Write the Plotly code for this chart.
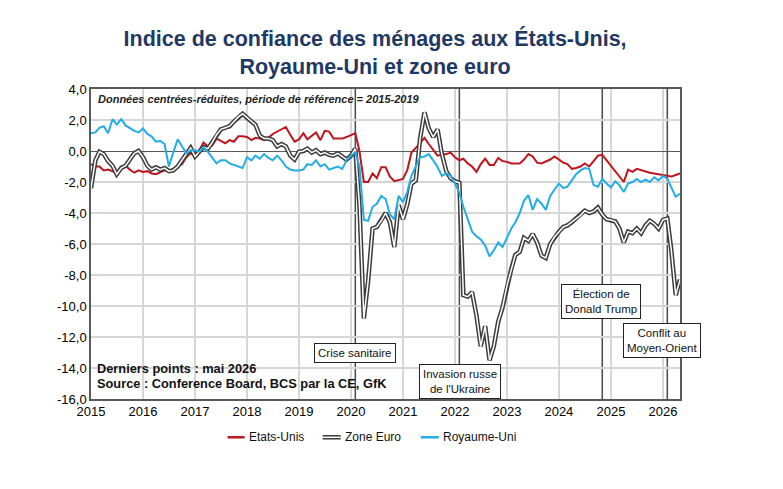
import plotly.graph_objects as go
import pandas as pd

# ---------------- data ----------------
months = pd.date_range("2015-01-01", "2026-05-01", freq="MS")

etats_unis = [
    -0.85, -1.0, -1.0, -1.25, -1.2, -1.3, -1.4, -1.0, -0.95, -1.2, -1.4, -1.25,
    -1.35, -1.3, -1.45, -1.5, -1.35, -1.25, -1.3, -1.15, -0.95, -0.85, -0.4, -0.15,
    -0.3, 0.05, 0.55, 0.3, 0.35, 0.8, 0.65, 0.5, 0.7, 0.6, 0.95, 0.95,
    0.9, 0.7, 0.85, 0.8, 0.7, 0.85, 1.1, 1.25, 1.4, 1.55, 1.05, 0.6,
    0.75, 1.15, 0.75, 1.0, 1.2, 0.7, 1.3, 1.25, 0.8, 0.8, 0.8, 0.9,
    1.05, 1.15, 0.0, -2.0, -2.0, -1.45, -1.75, -1.05, -1.05, -1.65, -1.95, -1.9,
    -1.8, -1.2, -0.1, 0.2, 0.5, 0.85, 0.45, 0.05, -0.3, -0.25, -0.2, -0.1,
    -0.4, -0.6, -0.5, -0.8, -1.0, -1.35, -0.85, -0.5, -0.9, -0.9, -0.45, -0.65,
    -0.7, -0.8, -0.8, -0.8, -0.55, -0.2, -0.35, -0.75, -0.8, -0.7, -0.55, -0.35,
    -0.55, -0.75, -0.85, -1.15, -1.1, -1.0, -0.8, -1.0, -0.65, -0.3, -0.25, -0.6,
    -0.95, -1.3, -1.6, -2.0, -1.2, -1.35, -1.15, -1.25, -1.35, -1.4, -1.45, -1.5,
    -1.55, -1.65, -1.65, -1.55, -1.45,
]

zone_euro = [
    -2.4, -0.6, -0.05, -0.2, -0.65, -0.95, -1.5, -1.1, -0.95, -0.55, -0.15, 0.0,
    -0.4, -0.95, -1.2, -1.05, -1.2, -1.1, -1.3, -1.25, -1.0, -0.6, -0.15, 0.2,
    -0.35, 0.0, 0.25, 0.15, 0.55, 1.05, 1.4, 1.5, 1.6, 1.9, 2.2, 2.4,
    2.15, 1.95, 1.7, 1.0, 0.8, 0.8, 0.7, 0.3, 0.45, 0.3, -0.3, -0.55,
    -0.05, 0.0, 0.15, -0.1, 0.05, -0.2, -0.1, -0.25, -0.3, -0.15, -0.35, -0.55,
    -0.3, 0.15, -3.5, -10.8, -8.4, -5.0, -4.9, -4.5, -4.0, -4.6, -6.2, -3.5,
    -4.4, -3.4, -2.1, -1.9, 0.8, 2.5, 1.45, 0.9, 1.4, -0.2, -1.3, -1.75,
    -1.95, -2.05, -9.3, -9.4, -9.1, -10.6, -12.6, -11.3, -13.5, -12.6, -11.0, -10.1,
    -8.7, -7.6, -6.7, -6.5, -5.6, -5.8, -5.35, -5.9, -6.75, -6.9, -6.0, -5.55,
    -5.2, -4.9, -4.8, -4.6, -4.35, -4.15, -3.85, -4.0, -3.9, -3.65, -4.1, -4.4,
    -4.45, -4.55, -5.0, -5.9, -5.2, -5.3, -5.0, -5.3, -4.8, -4.5, -4.7, -5.0,
    -4.45, -4.35, -6.4, -9.3, -8.3,
]

royaume_uni = [
    1.15, 1.2, 1.5, 1.6, 1.15, 2.05, 1.7, 2.05, 1.65, 1.45, 1.3, 1.2,
    1.45, 1.1, 0.95, 0.6, 0.65, 0.45, -1.0, -0.1, 0.75, 0.3, -0.15, 0.05,
    0.05, -0.05, 0.25, -0.05, -0.4, -0.8, -0.6, -0.6, -0.8, -0.9, -1.0, -1.1,
    -0.4, -0.6, -0.3, -0.5, -0.2, -0.45, -0.6, -0.3, -0.6, -1.0, -1.2, -1.25,
    -1.25, -1.2, -0.85, -0.9, -0.6, -1.0, -0.85, -1.2, -1.1, -1.0, -1.15, -0.6,
    -0.3, -0.1, -1.0, -4.45, -4.5, -3.6, -3.4, -2.9, -3.1, -4.1, -4.4, -2.9,
    -3.3, -2.6, -1.6, -1.0, -0.4, -0.35, -0.2, -0.6, -1.05, -1.6, -1.45, -1.6,
    -2.1, -2.7, -3.6, -4.4, -5.2, -5.5, -5.7, -6.1, -6.8, -6.4, -5.9, -6.2,
    -5.6, -5.0, -4.6, -4.0, -3.2, -2.85, -3.8, -3.1, -3.4, -3.8, -2.9, -2.5,
    -2.1, -2.4, -2.3, -1.9, -1.5, -1.25, -1.1, -1.15, -2.2, -2.3, -1.8, -2.1,
    -2.35, -1.95, -2.2, -2.65, -2.1, -2.0, -1.8, -2.0, -1.85, -2.0, -1.7, -1.9,
    -1.6, -1.8, -2.3, -2.95, -2.75,
]

year_ticks = [f"{y}-01-01" for y in range(2015, 2027)]
year_labels = [str(y) for y in range(2015, 2027)]
y_ticks = [4, 2, 0, -2, -4, -6, -8, -10, -12, -14, -16]
y_labels = ["4,0", "2,0", "0,0", "-2,0", "-4,0", "-6,0", "-8,0", "-10,0",
            "-12,0", "-14,0", "-16,0"]

event_dates = ["2020-02-01", "2022-02-01", "2024-11-01", "2026-02-01"]
event_labels = ["Crise sanitaire", "Invasion russe<br>de l'Ukraine",
                "Élection de<br>Donald Trump", "Conflit au<br>Moyen-Orient"]
event_label_x = ["2020-02-01", "2022-02-05", "2024-10-24", "2025-12-28"]
event_label_y = [-13.05, -14.86, -9.74, -12.21]

RED = "#c0151c"
CYAN = "#22ade6"
DARK = "#3c3c3c"
FONT = "Liberation Sans, Arial, sans-serif"

fig = go.Figure()
fig.add_trace(go.Scatter(x=months, y=etats_unis, mode="lines", name="Etats-Unis",
                         line=dict(color=RED, width=2), showlegend=False))
fig.add_trace(go.Scatter(x=months, y=zone_euro, mode="lines", name="Zone Euro",
                         line=dict(color=DARK, width=4.5), showlegend=False))
fig.add_trace(go.Scatter(x=months, y=zone_euro, mode="lines", name="Zone Euro (int.)",
                         line=dict(color="white", width=1.5), showlegend=False,
                         hoverinfo="skip"))
fig.add_trace(go.Scatter(x=months, y=royaume_uni, mode="lines", name="Royaume-Uni",
                         line=dict(color=CYAN, width=2), showlegend=False))

shapes = []
for d in event_dates:
    shapes.append(dict(type="line", xref="x", yref="paper", x0=d, x1=d, y0=0, y1=1,
                       line=dict(color="#4a4a4a", width=1.5), layer="below"))

annotations = []
for tx, lx, ly in zip(event_labels, event_label_x, event_label_y):
    annotations.append(dict(x=lx, y=ly, xref="x", yref="y", text=tx, showarrow=False,
                            font=dict(family=FONT, size=11.5, color="#111"),
                            bgcolor="white", bordercolor="#222", borderwidth=1,
                            borderpad=3, align="center"))

# in-plot texts
annotations.append(dict(x=0.009, y=0.967, xref="paper", yref="paper", xanchor="left",
                        yanchor="middle", showarrow=False,
                        text="<b><i>Données centrées-réduites, période de référence = 2015-2019</i></b>",
                        font=dict(family=FONT, size=11, color="#222")))
annotations.append(dict(x=0.006, y=0.099, xref="paper", yref="paper", xanchor="left",
                        yanchor="middle", showarrow=False,
                        text="<b>Derniers points : mai 2026</b>",
                        font=dict(family=FONT, size=12.8, color="#111")))
annotations.append(dict(x=0.006, y=0.049, xref="paper", yref="paper", xanchor="left",
                        yanchor="middle", showarrow=False,
                        text="<b>Source : Conference Board, BCS par la CE, GfK</b>",
                        font=dict(family=FONT, size=12.8, color="#111")))

# manual legend (below plot)
ly = -0.1235
leg = [(0.2319, 0.2608, 0.2642, "Etats-Unis", "red"),
       (0.3934, 0.4240, 0.4274, "Zone Euro", "euro"),
       (0.5599, 0.5905, 0.5939, "Royaume-Uni", "uk")]
for x0, x1, xt, txt, kind in leg:
    if kind == "red":
        shapes.append(dict(type="line", xref="paper", yref="paper", x0=x0, x1=x1,
                           y0=ly, y1=ly, line=dict(color=RED, width=2.5)))
    elif kind == "uk":
        shapes.append(dict(type="line", xref="paper", yref="paper", x0=x0, x1=x1,
                           y0=ly, y1=ly, line=dict(color=CYAN, width=2.5)))
    else:
        shapes.append(dict(type="line", xref="paper", yref="paper", x0=x0, x1=x1,
                           y0=ly, y1=ly, line=dict(color=DARK, width=4.5)))
        shapes.append(dict(type="line", xref="paper", yref="paper", x0=x0, x1=x1,
                           y0=ly, y1=ly, line=dict(color="white", width=1.5)))
    annotations.append(dict(x=xt, y=ly, xref="paper", yref="paper", xanchor="left",
                            yanchor="middle", showarrow=False, text=txt,
                            font=dict(family=FONT, size=12, color="#111")))

fig.update_layout(
    width=783, height=489,
    margin=dict(l=91, r=103, t=89, b=90),
    paper_bgcolor="white", plot_bgcolor="white",
    font=dict(family=FONT, size=13, color="#000"),
    title=dict(text="<b>Indice de confiance des ménages aux États-Unis,<br>Royaume-Uni et zone euro</b>",
               x=0.479, xanchor="center", y=0.906, yanchor="middle",
               xref="container", yref="container",
               font=dict(family=FONT, size=21.5, color="#1f3864")),
    shapes=shapes, annotations=annotations,
    showlegend=False,
    xaxis=dict(type="date", range=["2015-01-01", "2026-05-01"],
               tickvals=year_ticks, ticktext=year_labels,
               showgrid=True, gridcolor="#d6d6d6", gridwidth=1.5,
               showline=True, mirror=True, linecolor="#595959", linewidth=1.5,
               ticks="", tickfont=dict(family=FONT, size=13, color="#000"),
               zeroline=False),
    yaxis=dict(range=[-16, 4], tickvals=y_ticks, ticktext=y_labels,
               showgrid=True, gridcolor="#d6d6d6", gridwidth=1.5,
               showline=True, mirror=True, linecolor="#595959", linewidth=1.5,
               zeroline=True, zerolinecolor="#5a5a5a", zerolinewidth=1.2,
               ticks="", tickfont=dict(family=FONT, size=13, color="#000")),
)

fig.write_html("out.html")
